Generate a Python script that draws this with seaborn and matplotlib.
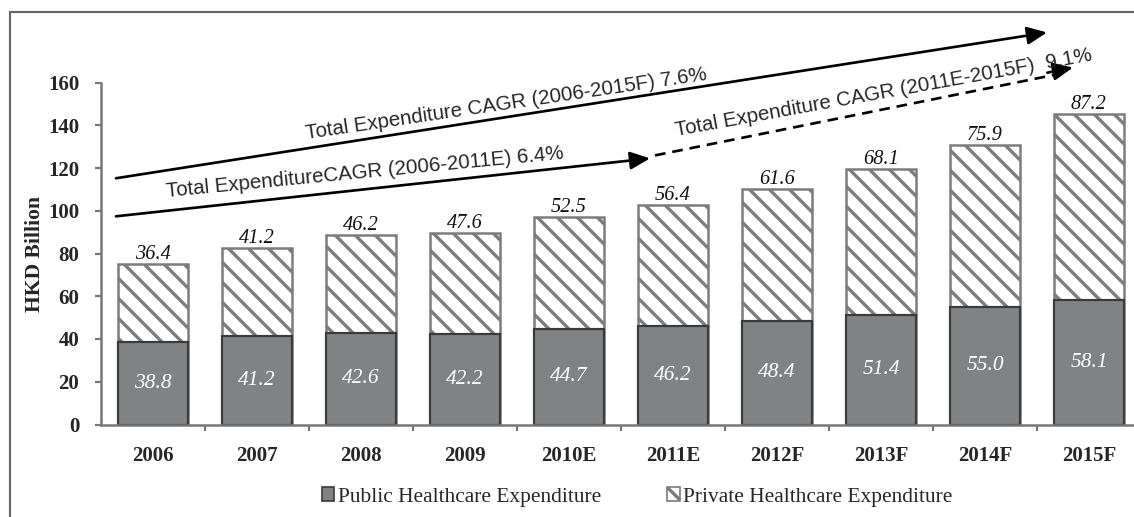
import matplotlib
matplotlib.use("Agg")
import matplotlib.pyplot as plt
from matplotlib.patches import Patch, Rectangle
import numpy as np
import pandas as pd
import seaborn as sns

# Hong Kong healthcare expenditure, HKD billion
years = ["2006", "2007", "2008", "2009", "2010E", "2011E", "2012F", "2013F", "2014F", "2015F"]
public = [38.8, 41.2, 42.6, 42.2, 44.7, 46.2, 48.4, 51.4, 55.0, 58.1]
private = [36.4, 41.2, 46.2, 47.6, 52.5, 56.4, 61.6, 68.1, 75.9, 87.2]
y_ticks = [0, 20, 40, 60, 80, 100, 120, 140, 160]

df = pd.DataFrame({"year": years, "public": public, "private": private})
df["total"] = df["public"] + df["private"]

sns.set_style("ticks")
SERIF = "Liberation Serif"
SANS = "Liberation Sans"
plt.rcParams["font.family"] = [SERIF, "DejaVu Serif"]
plt.rcParams["hatch.linewidth"] = 2.0

DPI = 120
fig = plt.figure(figsize=(1134 / DPI, 517 / DPI), dpi=DPI)
ax = fig.add_axes([101 / 1134, 92.5 / 517, 1040 / 1134, 342 / 517])

GRID = "#777777"
PUBLIC_FILL = "#818284"
HATCH_EDGE = "#7c7c7c"

# Stacked bars: full total drawn hatched, public share drawn on top of it
sns.barplot(data=df, x="year", y="total", color="white", saturation=1,
            width=0.68, edgecolor=HATCH_EDGE, linewidth=1.5, hatch="\\\\",
            errorbar=None, ax=ax)
sns.barplot(data=df, x="year", y="public", color=PUBLIC_FILL, saturation=1,
            width=0.68, edgecolor="#3a3a3a", linewidth=1.3,
            errorbar=None, ax=ax)

total_bars, public_bars = ax.containers[0], ax.containers[1]
ax.bar_label(total_bars, labels=[f"{v:.1f}" for v in private], padding=0,
             fontsize=12.2, fontstyle="italic", color="#111111")
ax.bar_label(public_bars, labels=[f"{v:.1f}" for v in public], label_type="center",
             fontsize=12.8, fontstyle="italic", color="white")

ax.set_xlim(-0.5, 9.5)
ax.set_ylim(0, 160)
ax.set_yticks(y_ticks)
ax.set_xlabel("")
ax.set_ylabel("HKD Billion", fontsize=13, fontweight="bold", labelpad=1.5)

for side in ("top", "right"):
    ax.spines[side].set_visible(False)
for side in ("left", "bottom"):
    ax.spines[side].set_color(GRID)
    ax.spines[side].set_linewidth(1.5)

ax.tick_params(axis="y", length=3.6, width=1.3, color=GRID, pad=9.5, labelsize=12.5)
ax.tick_params(axis="x", which="major", length=0, pad=13, labelsize=12.5)
ax.set_xticks(np.arange(0.5, 9.5, 1), minor=True)
ax.tick_params(axis="x", which="minor", length=3.5, width=1.3, color=GRID)
for lab in ax.get_xticklabels() + ax.get_yticklabels():
    lab.set_fontweight("bold")

# CAGR arrows
arrow_kw = dict(arrowstyle="-|>,head_length=1.0,head_width=0.45", color="black",
                lw=1.6, mutation_scale=10, shrinkA=0, shrinkB=0)
ax.annotate("", xy=(8.596, 183.4), xytext=(-0.356, 115.2),
            arrowprops=arrow_kw, annotation_clip=False)
ax.annotate("", xy=(4.779, 124.5), xytext=(-0.356, 97.4),
            arrowprops=arrow_kw, annotation_clip=False)
ax.plot([4.827, 8.70], [125.9, 163.9], color="black", lw=1.6,
        linestyle=(0, (4, 2.6)), clip_on=False, solid_capstyle="butt")
ax.annotate("", xy=(8.846, 167.0), xytext=(8.60, 164.6),
            arrowprops=arrow_kw, annotation_clip=False)

text_kw = dict(fontsize=12.3, family=[SANS, "DejaVu Sans"], ha="center", va="baseline",
               rotation_mode="anchor", annotation_clip=False)
ax.annotate("Total Expenditure CAGR (2006-2015F) 7.6%", xy=(3.404, 147.4),
            rotation=8.4, **text_kw)
ax.annotate("Total ExpenditureCAGR (2006-2011E) 6.4%", xy=(2.038, 115.6),
            rotation=5.5, **text_kw)
ax.annotate("Total Expenditure CAGR (2011E-2015F)  9.1%", xy=(7.038, 152.7),
            rotation=10.3, **text_kw)

handles = [
    Patch(facecolor=PUBLIC_FILL, edgecolor="#3a3a3a", linewidth=1.0),
    Patch(facecolor="white", edgecolor=HATCH_EDGE, linewidth=1.0, hatch="\\\\"),
]
fig.legend(handles, ["Public Healthcare Expenditure", "Private Healthcare Expenditure"],
           loc="center", bbox_to_anchor=(637 / 1134, 1 - 497 / 517), ncol=2,
           frameon=False, fontsize=12.8, handlelength=0.6, handleheight=0.6,
           handletextpad=0.15, columnspacing=3.1)

# Outer frame
fig.add_artist(Rectangle((10 / 1134, -0.2), 1.2, 0.2 + (1 - 12 / 517),
                         transform=fig.transFigure, facecolor="none",
                         edgecolor="#666666", linewidth=1.3, clip_on=False))

fig.savefig("out.png", dpi=DPI)
